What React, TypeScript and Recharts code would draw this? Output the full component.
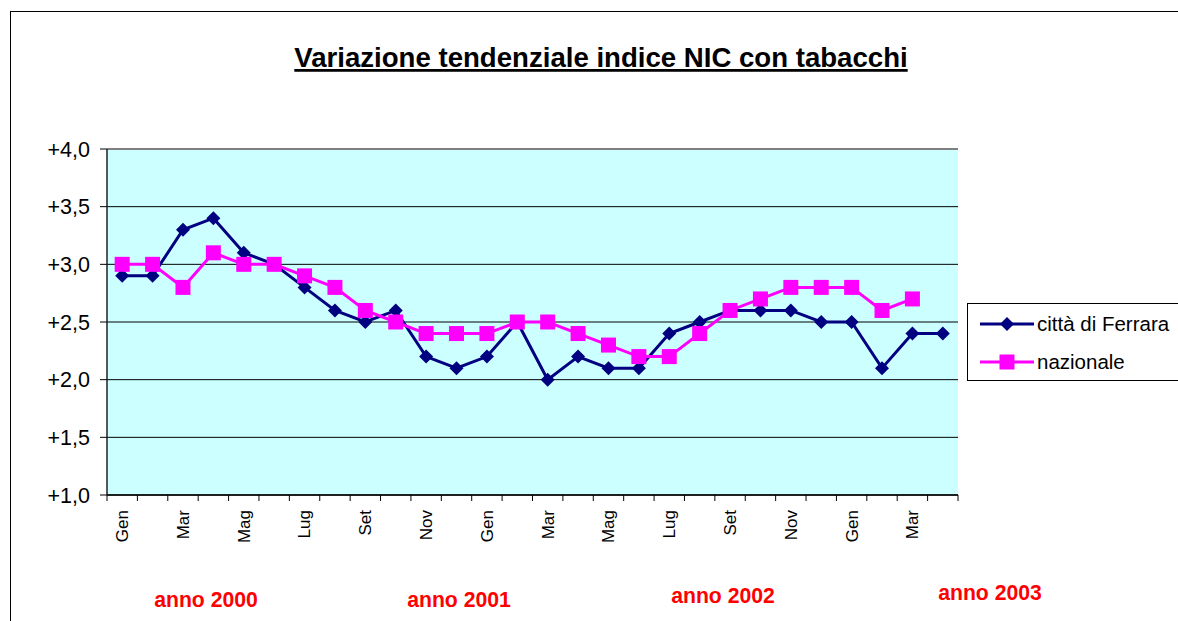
import React from "react";
import { CartesianGrid, Line, LineChart, ReferenceLine, XAxis, YAxis } from "recharts";

const periods = [
  "Gen", "Feb", "Mar", "Apr", "Mag", "Giu", "Lug", "Ago", "Set", "Ott", "Nov", "Dic",
  "Gen", "Feb", "Mar", "Apr", "Mag", "Giu", "Lug", "Ago", "Set", "Ott", "Nov", "Dic",
  "Gen", "Feb", "Mar", "Apr",
];
const ferrara = [2.9, 2.9, 3.3, 3.4, 3.1, 3.0, 2.8, 2.6, 2.5, 2.6, 2.2, 2.1, 2.2, 2.5, 2.0, 2.2, 2.1, 2.1, 2.4, 2.5, 2.6, 2.6, 2.6, 2.5, 2.5, 2.1, 2.4, 2.4];
const nazionale = [3.0, 3.0, 2.8, 3.1, 3.0, 3.0, 2.9, 2.8, 2.6, 2.5, 2.4, 2.4, 2.4, 2.5, 2.5, 2.4, 2.3, 2.2, 2.2, 2.4, 2.6, 2.7, 2.8, 2.8, 2.8, 2.6, 2.7, null];
const yTicks = [1, 1.5, 2, 2.5, 3, 3.5, 4];
const yearLabels = [
  { text: "anno 2000", x: 206, y: 607 },
  { text: "anno 2001", x: 459, y: 607 },
  { text: "anno 2002", x: 723, y: 603 },
  { text: "anno 2003", x: 990, y: 600 },
];

const NAVY = "#000080";
const MAGENTA = "#FF00FF";
const FONT = "'Liberation Sans', Arial, sans-serif";

const series = [
  { key: "ferrara", name: "città di Ferrara", color: NAVY, marker: "diamond" },
  { key: "nazionale", name: "nazionale", color: MAGENTA, marker: "square" },
];

const rows = periods.map((p, i) => ({ period: p, ferrara: ferrara[i], nazionale: nazionale[i] }));

const PLOT_W = 851;
const HALF = PLOT_W / periods.length / 2;

const fmtY = (v: number) => "+" + v.toFixed(1).replace(".", ",");

function MonthTick(props: any) {
  const { x, y, payload } = props;
  const i = payload?.index ?? props.index;
  return (
    <g>
      <line x1={x - HALF} x2={x - HALF} y1={y} y2={y + 6} stroke="#000" />
      {i === periods.length - 1 && <line x1={x + HALF} x2={x + HALF} y1={y} y2={y + 6} stroke="#000" />}
      {i % 2 === 0 && (
        <text
          x={x}
          y={y + 15}
          dy="0.35em"
          textAnchor="end"
          transform={`rotate(-90 ${x} ${y + 15})`}
          fontSize={17}
          fill="#000"
          fontFamily={FONT}
        >
          {payload.value}
        </text>
      )}
    </g>
  );
}

function ValueTick(props: any) {
  const { x, y, payload } = props;
  return (
    <text x={x} y={y} dy="0.35em" textAnchor="end" fontSize={21.5} fill="#000" fontFamily={FONT}>
      {fmtY(payload.value)}
    </text>
  );
}

function Diamond(p: any) {
  if (p.cx == null || p.cy == null || p.value == null) return <g key={`d-${p.index}`} />;
  const r = 7;
  return (
    <polygon
      key={`d-${p.index}`}
      points={`${p.cx},${p.cy - r} ${p.cx + r},${p.cy} ${p.cx},${p.cy + r} ${p.cx - r},${p.cy}`}
      fill={NAVY}
    />
  );
}

function Square(p: any) {
  if (p.cx == null || p.cy == null || p.value == null) return <g key={`s-${p.index}`} />;
  const r = 7.5;
  return <rect key={`s-${p.index}`} x={p.cx - r} y={p.cy - r} width={r * 2} height={r * 2} fill={MAGENTA} />;
}

function LegendBox() {
  return (
    <div
      style={{
        position: "absolute",
        left: 967,
        top: 303,
        border: "1px solid #000",
        width: 230,
        height: 78,
        background: "#fff",
        boxSizing: "border-box",
        paddingTop: 1,
      }}
    >
      {series.map((s) => (
        <div key={s.key} style={{ display: "flex", alignItems: "center", height: 38, fontFamily: FONT, fontSize: 20.5, color: "#000" }}>
          <svg width={54} height={20} style={{ marginLeft: 12 }}>
            <line x1={0} x2={54} y1={10} y2={10} stroke={s.color} strokeWidth={3} />
            {s.marker === "diamond" ? (
              <polygon points="27,3 34,10 27,17 20,10" fill={s.color} />
            ) : (
              <rect x={19.5} y={2.5} width={15} height={15} fill={s.color} />
            )}
          </svg>
          <span style={{ marginLeft: 3 }}>{s.name}</span>
        </div>
      ))}
    </div>
  );
}

export default function App() {
  return (
    <div style={{ position: "absolute", left: 0, top: 0, width: 1178, height: 621, overflow: "hidden", background: "#fff", fontFamily: FONT }}>
      <LineChart width={1178} height={621} data={rows} margin={{ top: 149, right: 220, bottom: 0, left: 0 }}>
        <CartesianGrid vertical={false} stroke="#000" fill="#CCFFFF" fillOpacity={1} />
        <XAxis
          dataKey="period"
          padding={{ left: HALF, right: HALF }}
          height={126}
          interval={0}
          tickLine={false}
          tickSize={0}
          tickMargin={0}
          axisLine={{ stroke: "#000", strokeWidth: 1.5 }}
          tick={<MonthTick />}
        />
        <YAxis
          domain={[1, 4]}
          ticks={yTicks}
          width={107}
          tickSize={7}
          tickMargin={10}
          axisLine={{ stroke: "#222", strokeWidth: 1.5 }}
          tickLine={{ stroke: "#000" }}
          tick={<ValueTick />}
        />
        <YAxis yAxisId="right" orientation="right" width={0} domain={[1, 4]} tick={false} tickLine={false} axisLine={{ stroke: "#808080", strokeWidth: 2 }} />
        <ReferenceLine y={4} stroke="#808080" strokeWidth={2} />
        {series.map((s) => (
          <Line
            key={s.key}
            dataKey={s.key}
            name={s.name}
            stroke={s.color}
            strokeWidth={3}
            dot={s.marker === "diamond" ? Diamond : Square}
            activeDot={false}
            isAnimationActive={false}
          />
        ))}
      </LineChart>
      <LegendBox />
      <svg width={1178} height={621} style={{ position: "absolute", left: 0, top: 0, pointerEvents: "none" }}>
        <rect x={10.5} y={11.5} width={1300} height={800} fill="none" stroke="#000" />
        <text x={601} y={67} textAnchor="middle" fontSize={27.6} fontWeight="bold" fontFamily={FONT} textDecoration="underline" fill="#000">
          Variazione tendenziale indice NIC con tabacchi
        </text>
        {yearLabels.map((l) => (
          <text key={l.text} x={l.x} y={l.y} textAnchor="middle" fontSize={21.2} fontWeight="bold" fontFamily={FONT} fill="#FF0000">
            {l.text}
          </text>
        ))}
      </svg>
    </div>
  );
}
